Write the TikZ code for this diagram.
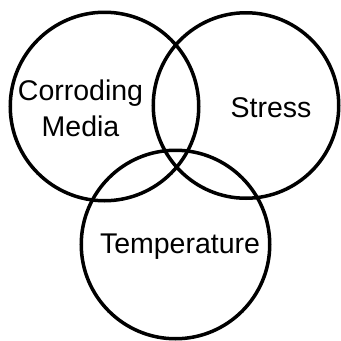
\documentclass[tikz,border=0pt]{standalone}
\usepackage{fontspec}
\setmainfont{Liberation Sans}
\usetikzlibrary{positioning}

\begin{document}
\begin{tikzpicture}[x=1pt,y=-1pt,
  ring/.style={draw,circle,line width=3.5pt,inner sep=0pt,minimum size=#1},
  label/.style={font=\fontsize{28.5}{36}\selectfont,align=center,inner sep=0pt}]
\useasboundingbox (0,0) rectangle (341,341);
\node[ring=188.5pt] (media) at (104.5,106.5) {};
\node[ring=185.5pt] (stress) at (246,105.5) {};
\node[ring=188.5pt] (temp) at (175.5,244.5) {};
\node[label] (tmedia) at (80.5,108.5) {Corroding\\Media};
\node[label,anchor=base] (tstress) at (271,117) {Stress};
\node[label,anchor=base] (ttemp) at (180,253) {Temperature};
\end{tikzpicture}
\end{document}
